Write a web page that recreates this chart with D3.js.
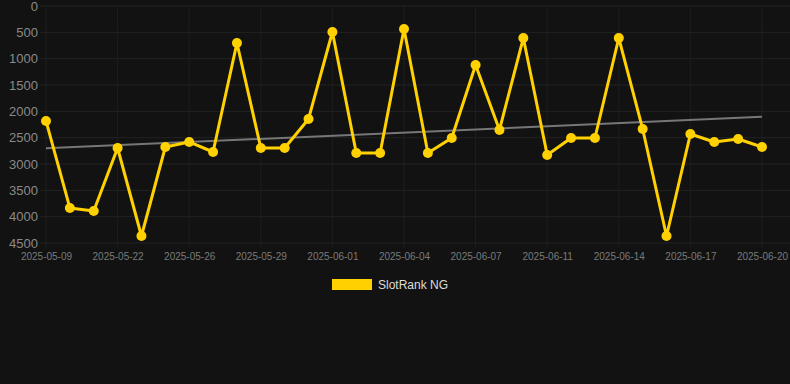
<!DOCTYPE html>
<html><head><meta charset="utf-8">
<script src="https://cdn.jsdelivr.net/npm/d3@7"></script>
<style>
html,body{margin:0;padding:0;background:#121212;}
svg{display:block;font-family:"Liberation Sans",Arial,sans-serif;}
</style></head>
<body>
<svg id="c" width="790" height="384"></svg>
<script>
const dates = ["2025-05-09","2025-05-15","2025-05-20","2025-05-22","2025-05-23","2025-05-25","2025-05-26","2025-05-27","2025-05-28","2025-05-29","2025-05-30","2025-05-31","2025-06-01","2025-06-02","2025-06-03","2025-06-04","2025-06-05","2025-06-06","2025-06-07","2025-06-09","2025-06-10","2025-06-11","2025-06-12","2025-06-13","2025-06-14","2025-06-15","2025-06-16","2025-06-17","2025-06-18","2025-06-19","2025-06-20"];
const ranks = [2183,3835,3892,2696,4367,2677,2582,2772,702,2696,2696,2145,494,2791,2791,437,2791,2506,1120,2354,608,2829,2506,2506,608,2335,4367,2430,2582,2525,2677];
const yTicks = [0,500,1000,1500,2000,2500,3000,3500,4000,4500];
const seriesName = "SlotRank NG";
const color = "#FFD100";

const svg = d3.select("#c");
svg.append("rect").attr("width",790).attr("height",384).attr("fill","#121212");

const x = d3.scalePoint().domain(dates).range([46, 762]);
const y = d3.scaleLinear().domain([0, 4500]).range([6, 243]);

const labelDates = dates.filter((d,i)=> i % 3 === 0);

// grid
const g = svg.append("g");
g.selectAll("line.h").data(yTicks).join("line")
  .attr("x1", 40).attr("x2", 790)
  .attr("y1", d=>y(d)).attr("y2", d=>y(d))
  .attr("stroke", "#222").attr("stroke-width", 1);
g.selectAll("line.v").data(labelDates).join("line")
  .attr("x1", d=>x(d)).attr("x2", d=>x(d))
  .attr("y1", 6).attr("y2", 248)
  .attr("stroke", "#1e1e1e").attr("stroke-width", 1);

// y axis
const ya = svg.append("g").attr("transform","translate(38,0)")
  .call(d3.axisLeft(y).tickValues(yTicks).tickFormat(d3.format("d")).tickSize(0).tickPadding(0));
ya.select(".domain").remove();
ya.selectAll("text").attr("fill","#8a8a8a").style("font-size","13px")
  .style("font-family","'Liberation Sans',Arial,sans-serif");

// x axis
const xa = svg.append("g").attr("transform","translate(0,253)")
  .call(d3.axisBottom(x).tickValues(labelDates).tickSize(0).tickPadding(0));
xa.select(".domain").remove();
xa.selectAll("text").attr("fill","#7a7a7a").style("font-size","10px")
  .attr("dy","0.71em")
  .style("font-family","'Liberation Sans',Arial,sans-serif");

// trend (least squares)
const n = ranks.length;
const xs = d3.range(n);
const mx = d3.mean(xs), my = d3.mean(ranks);
const slope = d3.sum(xs, i=>(i-mx)*(ranks[i]-my)) / d3.sum(xs, i=>(i-mx)*(i-mx));
const icpt = my - slope*mx;
svg.append("line")
  .attr("x1", x(dates[0])).attr("y1", y(icpt))
  .attr("x2", x(dates[n-1])).attr("y2", y(icpt + slope*(n-1)))
  .attr("stroke","#777").attr("stroke-width",2);

// line
const line = d3.line().x((d,i)=>x(dates[i])).y(d=>y(d));
svg.append("path").datum(ranks).attr("d", line)
  .attr("fill","none").attr("stroke",color).attr("stroke-width",3)
  .attr("stroke-linejoin","round");
svg.selectAll("circle.p").data(ranks).join("circle")
  .attr("cx",(d,i)=>x(dates[i])).attr("cy",d=>y(d)).attr("r",5)
  .attr("fill",color);

// legend
svg.append("rect").attr("x",332).attr("y",279).attr("width",40).attr("height",11).attr("fill",color);
svg.append("text").attr("x",378).attr("y",289).text(seriesName)
  .attr("fill","#dddddd").style("font-size","12px");
</script>
</body></html>
